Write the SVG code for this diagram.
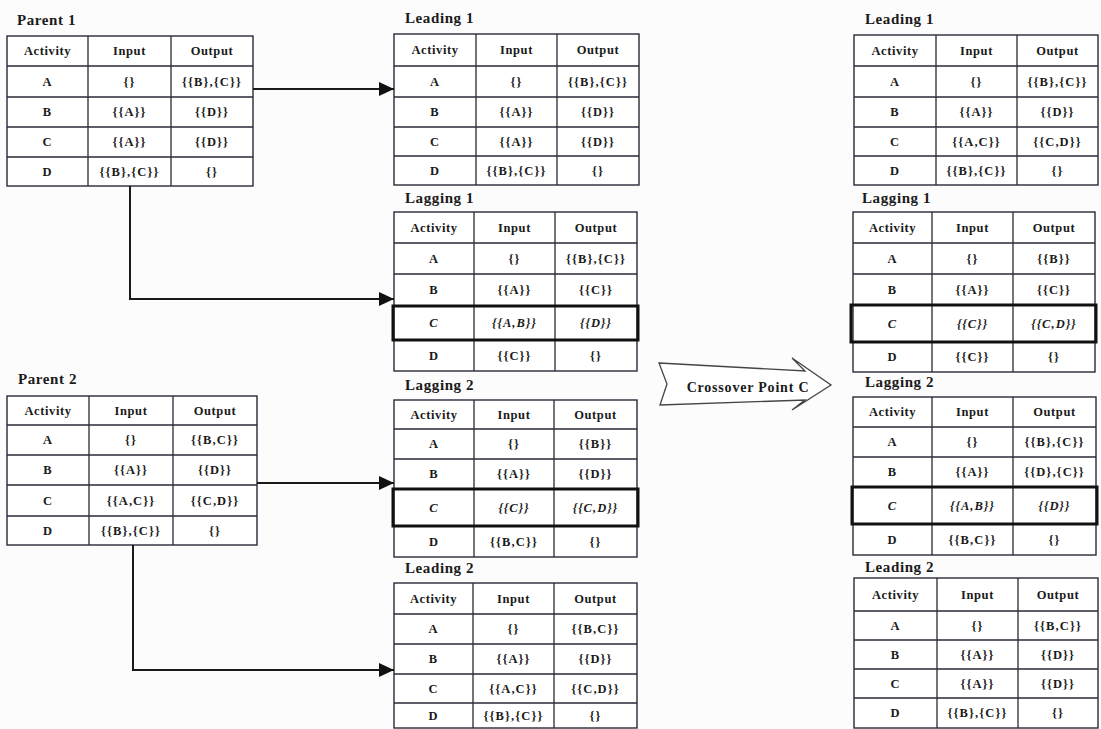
<svg xmlns="http://www.w3.org/2000/svg" width="1101" height="729" viewBox="0 0 1101 729">
<defs>
<style>
.bg{fill:#fcfcfc}
.tb{fill:#fff;stroke:#2a2a3a;stroke-width:1.4}
.gl{stroke:#2a2a3a;stroke-width:1.3;fill:none}
.hl{fill:none;stroke:#111;stroke-width:3}
.ttl{font-family:"Liberation Serif",serif;font-weight:bold;font-size:15px;fill:#1a1a1a;letter-spacing:0.6px}
.h{font-family:"Liberation Serif",serif;font-weight:bold;font-size:12.5px;fill:#1a1a1a;text-anchor:middle;letter-spacing:0.6px}
.d{font-family:"Liberation Serif",serif;font-weight:bold;font-size:12.5px;fill:#1a1a1a;text-anchor:middle;letter-spacing:1.1px}
.i{font-style:italic}
.cn{fill:none;stroke:#1a1a1a;stroke-width:2}
.xo{fill:#fff;stroke:#444;stroke-width:1.3}
.xt{font-family:"Liberation Serif",serif;font-weight:bold;font-size:14px;fill:#1a1a1a;text-anchor:middle;letter-spacing:0.8px}
</style>
<marker id="ah" markerUnits="userSpaceOnUse" markerWidth="15" markerHeight="14" refX="15" refY="7" orient="auto"><path d="M0,0 L15,7 L0,14 z" fill="#111"/></marker>
</defs>
<rect class="bg" x="0" y="0" width="1101" height="729"/>

<g id="parent1">
<text class="ttl" x="17" y="25">Parent 1</text>
<rect class="tb" x="7" y="36" width="246" height="150"/>
<path class="gl" d="M88 36V186M171 36V186M7 66H253M7 97H253M7 127H253M7 157H253"/>
<text class="h" x="47.5" y="55">Activity</text><text class="h" x="129.5" y="55">Input</text><text class="h" x="212" y="55">Output</text>
<text class="d" x="47.5" y="86">A</text><text class="d" x="129.5" y="86">{}</text><text class="d" x="212" y="86">{{B},{C}}</text>
<text class="d" x="47.5" y="116">B</text><text class="d" x="129.5" y="116">{{A}}</text><text class="d" x="212" y="116">{{D}}</text>
<text class="d" x="47.5" y="146">C</text><text class="d" x="129.5" y="146">{{A}}</text><text class="d" x="212" y="146">{{D}}</text>
<text class="d" x="47.5" y="176">D</text><text class="d" x="129.5" y="176">{{B},{C}}</text><text class="d" x="212" y="176">{}</text>
</g>

<g id="parent2">
<text class="ttl" x="18" y="384">Parent 2</text>
<rect class="tb" x="7" y="396" width="250" height="149"/>
<path class="gl" d="M89 396V545M173 396V545M7 425H257M7 455H257M7 485H257M7 516H257"/>
<text class="h" x="48" y="415">Activity</text><text class="h" x="131" y="415">Input</text><text class="h" x="215" y="415">Output</text>
<text class="d" x="48" y="444">A</text><text class="d" x="131" y="444">{}</text><text class="d" x="215" y="444">{{B,C}}</text>
<text class="d" x="48" y="474">B</text><text class="d" x="131" y="474">{{A}}</text><text class="d" x="215" y="474">{{D}}</text>
<text class="d" x="48" y="505">C</text><text class="d" x="131" y="505">{{A,C}}</text><text class="d" x="215" y="505">{{C,D}}</text>
<text class="d" x="48" y="535">D</text><text class="d" x="131" y="535">{{B},{C}}</text><text class="d" x="215" y="535">{}</text>
</g>

<g id="leading1-mid">
<text class="ttl" x="405" y="23">Leading 1</text>
<rect class="tb" x="394" y="34" width="245" height="151"/>
<path class="gl" d="M476 34V185M557 34V185M394 66H639M394 97H639M394 127H639M394 156H639"/>
<text class="h" x="435" y="54">Activity</text><text class="h" x="516.5" y="54">Input</text><text class="h" x="598" y="54">Output</text>
<text class="d" x="435" y="86">A</text><text class="d" x="516.5" y="86">{}</text><text class="d" x="598" y="86">{{B},{C}}</text>
<text class="d" x="435" y="116">B</text><text class="d" x="516.5" y="116">{{A}}</text><text class="d" x="598" y="116">{{D}}</text>
<text class="d" x="435" y="146">C</text><text class="d" x="516.5" y="146">{{A}}</text><text class="d" x="598" y="146">{{D}}</text>
<text class="d" x="435" y="175">D</text><text class="d" x="516.5" y="175">{{B},{C}}</text><text class="d" x="598" y="175">{}</text>
</g>

<g id="lagging1-mid">
<text class="ttl" x="405" y="203">Lagging 1</text>
<rect class="tb" x="394" y="212" width="243" height="159"/>
<path class="gl" d="M474 212V371M555 212V371M394 243H637M394 274H637M394 340H637"/>
<rect class="hl" x="393" y="306" width="245" height="34"/>
<text class="h" x="434" y="232">Activity</text><text class="h" x="514.5" y="232">Input</text><text class="h" x="596" y="232">Output</text>
<text class="d" x="434" y="263">A</text><text class="d" x="514.5" y="263">{}</text><text class="d" x="596" y="263">{{B},{C}}</text>
<text class="d" x="434" y="294">B</text><text class="d" x="514.5" y="294">{{A}}</text><text class="d" x="596" y="294">{{C}}</text>
<text class="d i" x="434" y="327">C</text><text class="d i" x="514.5" y="327">{{A,B}}</text><text class="d i" x="596" y="327">{{D}}</text>
<text class="d" x="434" y="360">D</text><text class="d" x="514.5" y="360">{{C}}</text><text class="d" x="596" y="360">{}</text>
</g>

<g id="lagging2-mid">
<text class="ttl" x="405" y="390">Lagging 2</text>
<rect class="tb" x="394" y="400" width="243" height="157"/>
<path class="gl" d="M474 400V557M554 400V557M394 429H637M394 459H637M394 526H637"/>
<rect class="hl" x="393" y="489" width="245" height="37"/>
<text class="h" x="434" y="419">Activity</text><text class="h" x="514" y="419">Input</text><text class="h" x="595.5" y="419">Output</text>
<text class="d" x="434" y="448">A</text><text class="d" x="514" y="448">{}</text><text class="d" x="595.5" y="448">{{B}}</text>
<text class="d" x="434" y="478">B</text><text class="d" x="514" y="478">{{A}}</text><text class="d" x="595.5" y="478">{{D}}</text>
<text class="d i" x="434" y="512">C</text><text class="d i" x="514" y="512">{{C}}</text><text class="d i" x="595.5" y="512">{{C,D}}</text>
<text class="d" x="434" y="546">D</text><text class="d" x="514" y="546">{{B,C}}</text><text class="d" x="595.5" y="546">{}</text>
</g>

<g id="leading2-mid">
<text class="ttl" x="405" y="573">Leading 2</text>
<rect class="tb" x="394" y="583" width="243" height="145"/>
<path class="gl" d="M473 583V728M554 583V728M394 614H637M394 644H637M394 674H637M394 703H637"/>
<text class="h" x="433.5" y="603">Activity</text><text class="h" x="513.5" y="603">Input</text><text class="h" x="595.5" y="603">Output</text>
<text class="d" x="433.5" y="633">A</text><text class="d" x="513.5" y="633">{}</text><text class="d" x="595.5" y="633">{{B,C}}</text>
<text class="d" x="433.5" y="663">B</text><text class="d" x="513.5" y="663">{{A}}</text><text class="d" x="595.5" y="663">{{D}}</text>
<text class="d" x="433.5" y="693">C</text><text class="d" x="513.5" y="693">{{A,C}}</text><text class="d" x="595.5" y="693">{{C,D}}</text>
<text class="d" x="433.5" y="720">D</text><text class="d" x="513.5" y="720">{{B},{C}}</text><text class="d" x="595.5" y="720">{}</text>
</g>

<g id="leading1-right">
<text class="ttl" x="865" y="24">Leading 1</text>
<rect class="tb" x="854" y="35" width="244" height="150"/>
<path class="gl" d="M936 35V185M1017 35V185M854 66H1098M854 97H1098M854 127H1098M854 156H1098"/>
<text class="h" x="895" y="55">Activity</text><text class="h" x="976.5" y="55">Input</text><text class="h" x="1057.5" y="55">Output</text>
<text class="d" x="895" y="86">A</text><text class="d" x="976.5" y="86">{}</text><text class="d" x="1057.5" y="86">{{B},{C}}</text>
<text class="d" x="895" y="116">B</text><text class="d" x="976.5" y="116">{{A}}</text><text class="d" x="1057.5" y="116">{{D}}</text>
<text class="d" x="895" y="146">C</text><text class="d" x="976.5" y="146">{{A,C}}</text><text class="d" x="1057.5" y="146">{{C,D}}</text>
<text class="d" x="895" y="175">D</text><text class="d" x="976.5" y="175">{{B},{C}}</text><text class="d" x="1057.5" y="175">{}</text>
</g>

<g id="lagging1-right">
<text class="ttl" x="862" y="203">Lagging 1</text>
<rect class="tb" x="853" y="212" width="242" height="160"/>
<path class="gl" d="M932 212V372M1013 212V372M853 243H1095M853 274H1095M853 342H1095"/>
<rect class="hl" x="851" y="305" width="245" height="37"/>
<text class="h" x="892.5" y="232">Activity</text><text class="h" x="972.5" y="232">Input</text><text class="h" x="1054" y="232">Output</text>
<text class="d" x="892.5" y="263">A</text><text class="d" x="972.5" y="263">{}</text><text class="d" x="1054" y="263">{{B}}</text>
<text class="d" x="892.5" y="294">B</text><text class="d" x="972.5" y="294">{{A}}</text><text class="d" x="1054" y="294">{{C}}</text>
<text class="d i" x="892.5" y="328">C</text><text class="d i" x="972.5" y="328">{{C}}</text><text class="d i" x="1054" y="328">{{C,D}}</text>
<text class="d" x="892.5" y="361">D</text><text class="d" x="972.5" y="361">{{C}}</text><text class="d" x="1054" y="361">{}</text>
</g>

<g id="lagging2-right">
<text class="ttl" x="865" y="387">Lagging 2</text>
<rect class="tb" x="853" y="397" width="243" height="158"/>
<path class="gl" d="M932 397V555M1013 397V555M853 427H1096M853 457H1096M853 524H1096"/>
<rect class="hl" x="852" y="487" width="245" height="37"/>
<text class="h" x="892.5" y="416">Activity</text><text class="h" x="972.5" y="416">Input</text><text class="h" x="1054.5" y="416">Output</text>
<text class="d" x="892.5" y="446">A</text><text class="d" x="972.5" y="446">{}</text><text class="d" x="1054.5" y="446">{{B},{C}}</text>
<text class="d" x="892.5" y="476">B</text><text class="d" x="972.5" y="476">{{A}}</text><text class="d" x="1054.5" y="476">{{D},{C}}</text>
<text class="d i" x="892.5" y="510">C</text><text class="d i" x="972.5" y="510">{{A,B}}</text><text class="d i" x="1054.5" y="510">{{D}}</text>
<text class="d" x="892.5" y="544">D</text><text class="d" x="972.5" y="544">{{B,C}}</text><text class="d" x="1054.5" y="544">{}</text>
</g>

<g id="leading2-right">
<text class="ttl" x="865" y="572">Leading 2</text>
<rect class="tb" x="854" y="578" width="244" height="150"/>
<path class="gl" d="M937 578V728M1018 578V728M854 611H1098M854 640H1098M854 669H1098M854 698H1098"/>
<text class="h" x="895.5" y="599">Activity</text><text class="h" x="977.5" y="599">Input</text><text class="h" x="1058" y="599">Output</text>
<text class="d" x="895.5" y="630">A</text><text class="d" x="977.5" y="630">{}</text><text class="d" x="1058" y="630">{{B,C}}</text>
<text class="d" x="895.5" y="659">B</text><text class="d" x="977.5" y="659">{{A}}</text><text class="d" x="1058" y="659">{{D}}</text>
<text class="d" x="895.5" y="688">C</text><text class="d" x="977.5" y="688">{{A}}</text><text class="d" x="1058" y="688">{{D}}</text>
<text class="d" x="895.5" y="717">D</text><text class="d" x="977.5" y="717">{{B},{C}}</text><text class="d" x="1058" y="717">{}</text>
</g>

<g id="crossover">
<polygon class="xo" points="659,363 805,371 792,358 831,385 792,410 805,400 660,405 667,384"/>
<text class="xt" x="748" y="392">Crossover Point C</text>
</g>

<g id="connectors">
<path class="cn" d="M253 89H394" marker-end="url(#ah)"/>
<path class="cn" d="M130 186V299H394" marker-end="url(#ah)"/>
<path class="cn" d="M257 483H394" marker-end="url(#ah)"/>
<path class="cn" d="M133 545V670H394" marker-end="url(#ah)"/>
</g>
</svg>
